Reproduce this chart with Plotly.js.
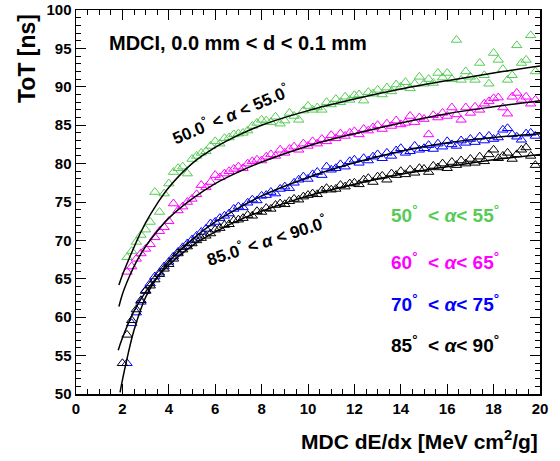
<!DOCTYPE html>
<html>
<head>
<meta charset="utf-8">
<script src="https://cdn.plot.ly/plotly-3.0.1.min.js"></script>
<style>html,body{margin:0;padding:0;background:#fff;}#chart{width:560px;height:461px;}</style>
</head>
<body>
<div id="chart"></div>
<script>
// bin centres (MDC dE/dx)
const xBins = [2.0,2.2,2.4,2.6,2.8,3.0,3.2,3.4,3.6,3.8,4.0,4.2,4.4,4.6,4.8,5.0,5.2,5.4,5.6,5.8,
  6.0,6.2,6.4,6.6,6.8,7.0,7.2,7.4,7.6,7.8,8.0,8.2,8.4,8.6,8.8,9.0,9.2,9.4,9.6,9.8,
  10.0,10.2,10.4,10.6,10.8,11.0,11.2,11.4,11.6,11.8,12.0,12.2,12.4,12.6,12.8,13.0,13.2,13.4,13.6,13.8,
  14.0,14.2,14.4,14.6,14.8,15.0,15.2,15.4,15.6,15.8,16.0,16.2,16.4,16.6,16.8,17.0,17.2,17.4,17.6,17.8,
  18.0,18.2,18.4,18.6,18.8,19.0,19.2,19.4,19.6,19.8];

// ToT, 50 < alpha < 55 (green)
const totA50 = [null,67.8,68.6,69.8,70.7,71.4,72.4,76.3,73.7,76.1,77.4,78.9,79.4,79.6,78.7,80.6,81.0,81.4,81.6,82.3,
  82.9,82.6,83.3,83.4,83.8,83.9,84.0,84.3,84.9,85.3,85.7,85.6,85.4,86.1,85.2,85.6,86.6,86.2,85.7,86.9,
  87.5,87.0,87.3,87.0,88.0,87.7,88.4,88.0,88.7,88.3,88.9,89.0,88.2,89.3,89.1,89.6,89.0,89.9,89.4,90.3,
  90.0,90.6,89.8,90.4,91.3,90.4,91.0,90.5,91.8,91.2,91.8,91.0,96.1,90.9,92.0,91.3,90.9,93.1,91.5,90.4,
  94.4,93.5,92.3,90.9,91.5,95.4,93.1,93.5,96.7,92.0];
// ToT, 60 < alpha < 65 (magenta)
const totA60 = [null,65.9,66.6,67.6,68.3,68.9,69.5,70.4,71.2,71.7,72.5,74.8,73.9,74.4,75.0,75.4,76.0,77.2,76.9,77.6,
  78.5,78.2,78.7,79.0,79.3,79.6,79.4,80.0,80.3,80.5,80.4,80.9,81.2,81.0,81.8,81.4,81.9,82.2,81.8,82.6,
  82.3,82.9,82.6,83.2,82.9,83.7,83.3,83.9,83.6,84.0,84.2,83.8,84.5,84.3,84.7,85.0,84.5,85.2,84.9,85.6,
  85.1,85.3,86.2,85.4,86.0,85.8,83.8,86.3,86.0,86.6,86.2,87.3,86.4,85.7,87.3,86.6,87.4,87.0,87.8,88.1,
  88.5,88.6,87.3,86.5,88.7,89.2,88.3,88.7,87.8,88.3];
// ToT, 70 < alpha < 75 (blue)
const totA70 = [null,54.0,59.2,60.6,62.0,63.5,64.4,65.3,65.8,66.6,67.2,67.9,68.5,69.1,69.6,70.1,70.6,71.1,71.5,72.2,
  72.4,72.9,73.2,73.5,74.1,74.4,74.3,74.9,75.3,75.2,75.8,75.9,76.3,76.1,76.7,77.0,76.8,77.5,77.9,78.3,
  78.0,78.6,78.9,78.5,79.6,79.2,79.4,79.9,79.6,80.3,80.5,80.1,80.7,80.4,80.9,81.2,80.7,81.4,81.0,81.7,
  82.0,81.4,81.6,82.3,81.8,82.0,82.4,81.9,82.6,82.2,82.9,82.5,82.3,83.0,82.7,83.2,82.8,83.5,83.0,83.6,
  83.2,83.4,84.4,84.6,83.8,83.5,83.1,83.9,84.0,83.6];
// ToT, 85 < alpha < 90 (black)
const totA85 = [54.0,57.7,59.6,61.0,62.2,63.4,64.1,64.9,65.6,66.3,66.9,67.6,68.3,68.8,69.2,69.6,70.0,70.3,70.6,70.9,
  71.4,71.6,72.0,72.1,72.6,72.7,72.9,73.3,73.2,73.8,73.7,74.2,74.1,74.6,74.8,74.7,75.1,75.4,75.3,75.7,
  75.9,76.1,76.0,76.5,76.8,76.6,76.7,77.2,77.0,77.4,77.5,77.3,77.9,78.1,77.6,78.3,78.4,77.9,78.7,78.5,
  79.0,78.6,79.2,78.8,79.4,79.3,78.9,79.7,79.5,80.0,79.4,80.2,79.8,80.4,80.0,80.6,80.1,80.9,80.3,81.2,
  81.8,80.7,81.0,81.4,80.6,81.2,81.8,82.1,81.0,79.8];

// fitted curves
const fitX50 = [1.85,2.0,2.3,2.6,3.0,3.5,4.0,5.0,6.0,7.0,8.0,10.0,12.0,14.0,16.0,18.0,20.0];
const fitY50 = [64.2,65.5,67.7,69.8,72.3,74.8,76.9,80.0,82.1,83.7,85.0,86.9,88.4,89.7,90.8,91.8,92.7];
const fitX60 = [1.85,2.0,2.3,2.6,3.0,3.5,4.0,5.0,6.0,7.0,8.0,10.0,12.0,14.0,16.0,18.0,20.0];
const fitY60 = [61.4,63.0,65.3,67.2,69.2,71.2,72.9,75.4,77.4,78.9,80.2,82.3,83.9,85.3,86.5,87.4,88.2];
const fitX70 = [1.9,2.0,2.2,2.5,3.0,3.5,4.0,5.0,6.0,7.0,8.0,10.0,12.0,14.0,16.0,18.0,20.0];
const fitY70 = [50.2,51.8,54.6,58.3,62.6,65.2,67.2,70.1,72.4,74.2,75.8,78.2,80.1,81.6,82.7,83.4,83.9];
const fitX85 = [1.82,2.0,2.5,3.0,3.5,4.0,5.0,6.0,7.0,8.0,10.0,12.0,14.0,16.0,18.0,20.0];
const fitY85 = [55.7,57.3,60.8,63.3,65.2,66.8,69.3,71.1,72.6,73.8,75.8,77.3,78.6,79.6,80.5,81.2];

const seriesNames = ['50° < α < 55°','60° < α < 65°','70° < α < 75°','85° < α < 90°'];
const colors = ['#55cc55','#ff00ff','#0000ff','#000000'];
const ys = [totA50, totA60, totA70, totA85];
const fits = [[fitX50,fitY50],[fitX60,fitY60],[fitX70,fitY70],[fitX85,fitY85]];

const traces = [];
ys.forEach((y,i)=>{
  traces.push({x:xBins, y:y, type:'scatter', mode:'markers', name:seriesNames[i],
    marker:{symbol:'triangle-up-open', size:9, color:colors[i], line:{width:1, color:colors[i]}},
    showlegend:false, cliponaxis:true});
});
fits.forEach((f,i)=>{
  traces.push({x:f[0], y:f[1], type:'scatter', mode:'lines', line:{color:'#000', width:1.5, shape:'spline', smoothing:1},
    showlegend:false, hoverinfo:'skip'});
});

const F = 'Liberation Sans, Arial, sans-serif';
function pxX(px){return (px-76)/464;}
function pxY(py){return (394-py)/384;}

const ann = [
  {text:'MDCI, 0.0 mm &lt; d &lt; 0.1 mm', x:pxX(107), y:pxY(43), xanchor:'left', yanchor:'middle',
   font:{family:F, size:20, color:'#000', weight:'bold'}},
  {text:'50.0<sup>°</sup> &lt; <i>α</i> &lt; 55.0<sup>°</sup>', x:pxX(230), y:pxY(114), textangle:-23,
   xanchor:'center', yanchor:'middle', font:{family:F, size:17, color:'#000', weight:'bold'}},
  {text:'85.0<sup>°</sup> &lt; <i>α</i> &lt; 90.0<sup>°</sup>', x:pxX(266), y:pxY(240), textangle:-18,
   xanchor:'center', yanchor:'middle', font:{family:F, size:17, color:'#000', weight:'bold'}},
  {text:'50<sup>°</sup>  &lt; <i>α</i>&lt; 55<sup>°</sup>', x:pxX(389), y:pxY(214), xanchor:'left', yanchor:'middle', font:{family:F, size:19, color:colors[0], weight:'bold'}},
  {text:'60<sup>°</sup>  &lt; <i>α</i>&lt; 65<sup>°</sup>', x:pxX(389), y:pxY(261), xanchor:'left', yanchor:'middle', font:{family:F, size:19, color:colors[1], weight:'bold'}},
  {text:'70<sup>°</sup>  &lt; <i>α</i>&lt; 75<sup>°</sup>', x:pxX(389), y:pxY(303), xanchor:'left', yanchor:'middle', font:{family:F, size:19, color:colors[2], weight:'bold'}},
  {text:'85<sup>°</sup>  &lt; <i>α</i>&lt; 90<sup>°</sup>', x:pxX(389), y:pxY(344), xanchor:'left', yanchor:'middle', font:{family:F, size:19, color:colors[3], weight:'bold'}},
  {text:'MDC dE/dx [MeV cm<sup>2</sup>/g]', x:1.0, y:pxY(440), xanchor:'right', yanchor:'middle',
   font:{family:F, size:21, color:'#000', weight:'bold'}},
  {text:'ToT [ns]', x:pxX(27), y:pxY(59), textangle:-90, xanchor:'center', yanchor:'middle',
   font:{family:F, size:23, color:'#000', weight:'bold'}}
].map(a=>Object.assign({xref:'paper', yref:'paper', showarrow:false}, a));

const layout = {
  width:560, height:461,
  margin:{l:76, r:20, t:10, b:67, pad:0},
  paper_bgcolor:'#fff', plot_bgcolor:'#fff',
  showlegend:false,
  xaxis:{range:[0,20], tickvals:[0,2,4,6,8,10,12,14,16,18,20], ticks:'inside', ticklen:10, tickwidth:1, tickcolor:'#000',
    minor:{dtick:0.5, ticks:'inside', ticklen:5, tickcolor:'#000', tickwidth:1, showgrid:false},
    showline:true, linecolor:'#000', linewidth:1.5, mirror:'ticks', showgrid:false, zeroline:false,
    tickfont:{family:F, size:15, color:'#000', weight:'bold'}},
  yaxis:{range:[50,100], tickvals:[50,55,60,65,70,75,80,85,90,95,100], ticks:'inside', ticklen:10, tickwidth:1, tickcolor:'#000',
    minor:{dtick:1, ticks:'inside', ticklen:5, tickcolor:'#000', tickwidth:1, showgrid:false},
    showline:true, linecolor:'#000', linewidth:1.5, mirror:'ticks', showgrid:false, zeroline:false,
    tickfont:{family:F, size:15, color:'#000', weight:'bold'}},
  annotations: ann
};

Plotly.newPlot('chart', traces, layout, {staticPlot:true, displayModeBar:false});
</script>
</body>
</html>
